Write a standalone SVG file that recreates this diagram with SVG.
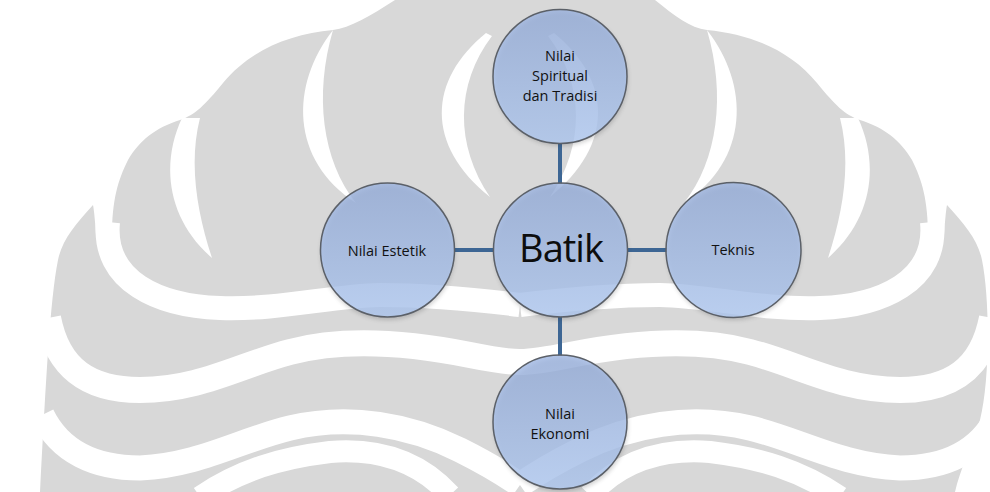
<svg xmlns="http://www.w3.org/2000/svg" xmlns:xlink="http://www.w3.org/1999/xlink" width="990" height="492" viewBox="0 0 990 492">
<defs>
<style>
.wm{fill:#ffffff;stroke:none}
.wb{fill:none;stroke:#ffffff;stroke-linecap:butt}
.node circle{fill:url(#g);stroke:#5b6068;stroke-width:1.5}
.shadow{fill:#303030;opacity:0.22}
.lbl{font-family:"Open Sans","Liberation Sans",sans-serif;font-size:14.5px;fill:#111111;text-anchor:middle;font-variant-ligatures:none}
.big{font-family:"Open Sans","Liberation Sans",sans-serif;font-size:38px;fill:#0d0d0d;text-anchor:middle;font-variant-ligatures:none;letter-spacing:-1px}
.conn line{stroke:#3d6694;stroke-width:4}
</style>
<linearGradient id="g" x1="0" y1="0" x2="0" y2="1">
<stop offset="0" stop-color="#98b1e0" stop-opacity="0.76"/>
<stop offset="1" stop-color="#b2cdf8" stop-opacity="0.76"/>
</linearGradient>
<filter id="blur" x="-20%" y="-20%" width="140%" height="140%"><feGaussianBlur stdDeviation="2"/></filter>
</defs>

<g id="watermark">
<rect width="990" height="492" fill="#d8d8d8"/>
<path class="wm" d="M0,0 L395,0 C370,16 350,28 333,30 C290,34 250,50 223,83 C205,105 195,115 180,120 C155,128 140,140 128,160 C118,180 112,200 112,236 L96,236 C95,220 94,210 93,205 C75,225 62,240 58,260 C50,300 46,380 40,492 L0,492 Z"/>
<path class="wm" d="M990,0 L655,0 C675,16 690,28 707,30 C750,34 790,50 817,83 C835,105 845,115 860,120 C885,128 900,140 912,160 C922,180 928,200 928,236 L944,236 C945,220 946,210 947,205 C965,225 978,240 982,260 C990,300 990,380 980,420 C970,450 960,470 955,492 L990,492 Z"/>
<g id="wmL">
<path class="wm" d="M333,30 C290,85 290,160 356,203 C322,160 314,95 333,30 Z"/>
<path class="wm" d="M182,118 C160,165 168,220 212,258 C198,215 188,165 200,118 Z"/>
<path class="wm" d="M486,33 C428,80 425,145 490,197 C455,145 455,85 492,36 Z"/>
<path class="wb" stroke-width="24" d="M108,222 C102,282 160,306 220,308 C280,310 330,296 380,295 C430,295 480,300 520,305"/>
<path class="wb" stroke-width="26" d="M48,318 C58,370 90,390 140,390 C200,390 240,365 290,352 C350,336 420,345 470,355 C495,360 510,362 520,362"/>
<path class="wb" stroke-width="25" d="M42,415 C60,452 95,468 140,468 C200,465 240,440 290,428 C350,414 410,425 460,450 C490,465 510,478 520,485"/>
<path class="wb" stroke-width="22" d="M200,497 C240,470 280,458 330,452 C380,448 420,462 450,495"/>
</g>
<use xlink:href="#wmL" transform="translate(1040,0) scale(-1,1)"/>
</g>

<g id="connectors" class="conn">
<line x1="560" y1="143" x2="560" y2="184"/>
<line x1="560" y1="316" x2="560" y2="356"/>
<line x1="454" y1="250" x2="494" y2="250"/>
<line x1="627" y1="250" x2="667" y2="250"/>
</g>

<g id="node-top" class="node">
<ellipse class="shadow" cx="561" cy="79" rx="67" ry="67" filter="url(#blur)"/>
<circle cx="560" cy="76.5" r="67"/>
<text class="lbl" x="560" y="61">Nilai</text>
<text class="lbl" x="560" y="81">Spiritual</text>
<text class="lbl" x="560" y="101">dan Tradisi</text>
</g>

<g id="node-center" class="node">
<ellipse class="shadow" cx="561" cy="253" rx="67" ry="67" filter="url(#blur)"/>
<circle cx="560.5" cy="250" r="67"/>
<text class="big" x="561" y="262">Batik</text>
</g>

<g id="node-left" class="node">
<ellipse class="shadow" cx="388" cy="253" rx="67" ry="67" filter="url(#blur)"/>
<circle cx="387.5" cy="250" r="67"/>
<text class="lbl" x="387" y="256">Nilai Estetik</text>
</g>

<g id="node-right" class="node">
<ellipse class="shadow" cx="734" cy="253" rx="67" ry="67" filter="url(#blur)"/>
<circle cx="733.5" cy="250" r="67.5"/>
<text class="lbl" x="733" y="255">Teknis</text>
</g>

<g id="node-bottom" class="node">
<ellipse class="shadow" cx="561" cy="425" rx="67" ry="67" filter="url(#blur)"/>
<circle cx="560" cy="422" r="67"/>
<text class="lbl" x="560" y="419">Nilai</text>
<text class="lbl" x="560" y="439">Ekonomi</text>
</g>
</svg>
